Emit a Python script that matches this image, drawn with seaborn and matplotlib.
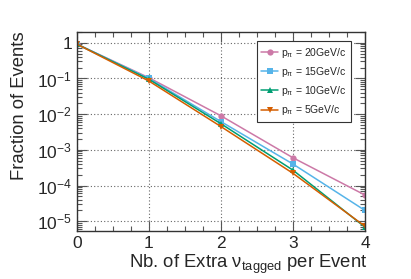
import numpy as np
import pandas as pd
import matplotlib
matplotlib.use("Agg")
import matplotlib.pyplot as plt
import seaborn as sns
from matplotlib.ticker import LogLocator, MultipleLocator, NullFormatter, FuncFormatter

# values
n_extra = [0, 1, 2, 3, 4]
frac_20 = [0.92, 0.105, 0.0090, 6.0e-4, 5.4e-5]
frac_15 = [0.92, 0.100, 0.0062, 4.0e-4, 2.0e-5]
frac_10 = [0.92, 0.095, 0.0054, 2.7e-4, 6.8e-6]
frac_5 = [0.92, 0.085, 0.0045, 2.2e-4, 7.2e-6]
labels = [r"p$_{\pi}$ = 20GeV/c", r"p$_{\pi}$ = 15GeV/c",
          r"p$_{\pi}$ = 10GeV/c", r"p$_{\pi}$ = 5GeV/c"]
colors = ["#cc79a7", "#56b4e9", "#009e73", "#d55e00"]
markers = ["o", "s", "^", "v"]

rows = []
for lab, ys in zip(labels, [frac_20, frac_15, frac_10, frac_5]):
    for x, y in zip(n_extra, ys):
        rows.append({"n": x, "frac": y, "series": lab})
df = pd.DataFrame(rows)

sns.set_style("ticks")
plt.rcParams["font.family"] = ["Liberation Sans", "DejaVu Sans"]
plt.rcParams["mathtext.fontset"] = "custom"
plt.rcParams["mathtext.rm"] = "Liberation Sans"
plt.rcParams["mathtext.it"] = "Liberation Sans"

fig = plt.figure(figsize=(4.11, 2.79), dpi=100)
ax = fig.add_axes([0.187, 0.172, 0.701, 0.713])

sns.lineplot(data=df, x="n", y="frac", hue="series", style="series",
             hue_order=labels, style_order=labels,
             palette=colors, markers=markers, dashes=False,
             markersize=4.5, linewidth=1.1, markeredgewidth=0, ax=ax)

ax.set_yscale("log")
ax.set_xlim(0, 4)
ax.set_ylim(5.3e-6, 2.0)
ax.xaxis.set_major_locator(MultipleLocator(1))
ax.xaxis.set_minor_locator(MultipleLocator(0.25))
ax.yaxis.set_major_locator(LogLocator(base=10, numticks=10))
ax.yaxis.set_minor_locator(LogLocator(base=10, subs=np.arange(2, 10), numticks=20))
ax.yaxis.set_minor_formatter(NullFormatter())


def log_fmt(v, pos):
    e = int(round(np.log10(v)))
    if e == 0:
        return "1"
    return r"$\mathregular{10^{%d}}$" % e


ax.yaxis.set_major_formatter(FuncFormatter(log_fmt))

ax.tick_params(which="both", direction="in", top=True, right=True,
               labelsize=12.5, width=0.8, color="#555555")
ax.tick_params(which="major", length=7)
ax.tick_params(which="minor", length=3.5)
ax.grid(True, which="major", linestyle=(0, (1, 2)), color="#666666", linewidth=0.8)
for s in ax.spines.values():
    s.set_color("#333333")
    s.set_linewidth(1.0)

ax.set_xlabel(r"Nb. of Extra $\mathregular{\nu_{tagged}}$ per Event", fontsize=13.3)
ax.set_ylabel("Fraction of Events", fontsize=13.3)
ax.xaxis.set_label_coords(0.595, -0.11)
ax.yaxis.set_label_coords(-0.17, 0.63)

leg = ax.legend(loc="upper right", bbox_to_anchor=(0.951, 0.955), borderaxespad=0,
                fontsize=7.5, frameon=True, fancybox=False,
                edgecolor="#333333", framealpha=1, handlelength=1.6,
                borderpad=0.45, labelspacing=0.5, handletextpad=0.3)
leg.get_frame().set_linewidth(0.8)

fig.savefig("out.png", dpi=100)
